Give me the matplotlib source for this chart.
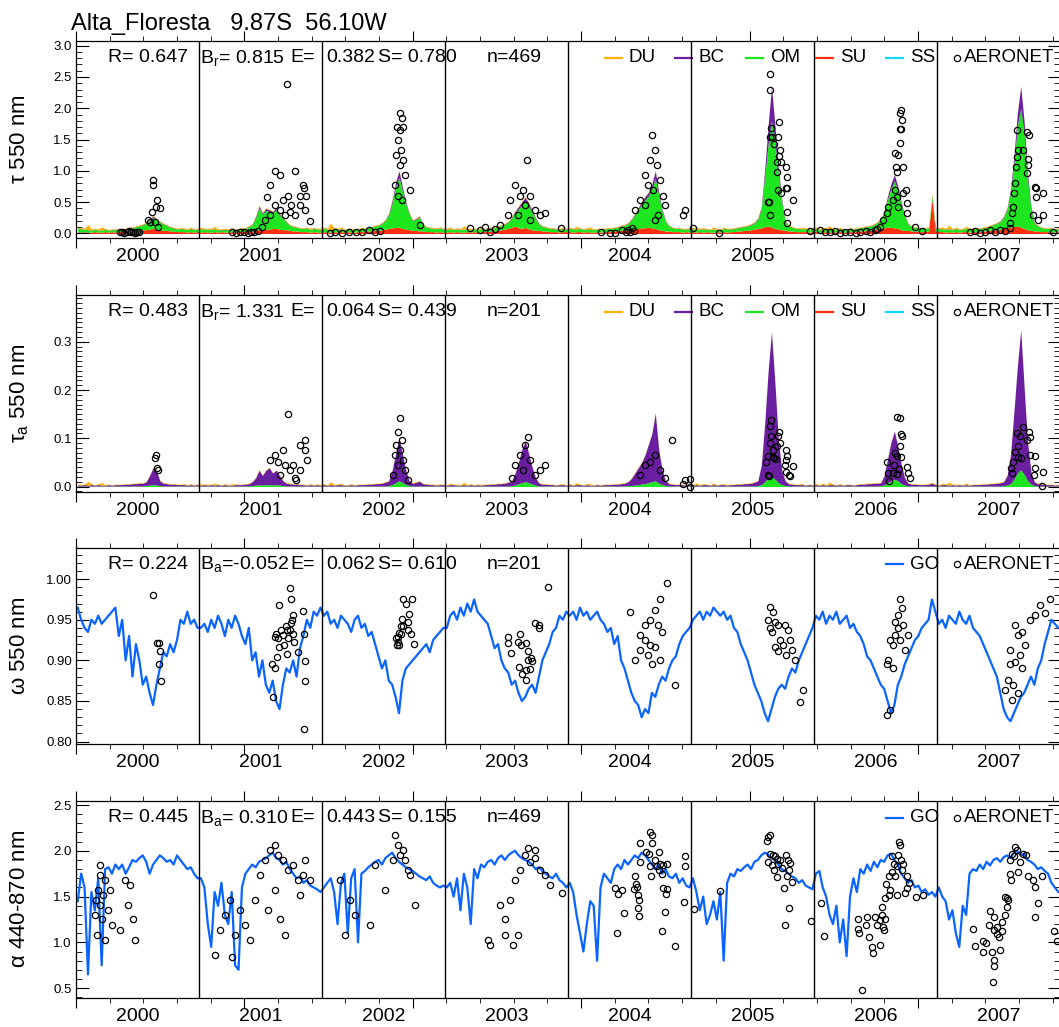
import numpy as np
import matplotlib
matplotlib.use("Agg")
import matplotlib.pyplot as plt
from matplotlib.ticker import MultipleLocator, FormatStrFormatter, NullFormatter
from matplotlib.transforms import blended_transform_factory

plt.rcParams['font.family'] = ['Liberation Sans', 'DejaVu Sans']
plt.rcParams['mathtext.default'] = 'regular'

years = [2000, 2001, 2002, 2003, 2004, 2005, 2006, 2007]

# model values, 36 steps (~10 days) per year, one row per year
om_tau = [
    [.06,.05,.04,.04,.03,.04,.03,.03,.04,.03,.03,.04,.03,.04,.04,.05,.05,.06,.07,.08,.10,.14,.18,.15,.12,.10,.08,.06,.05,.04,.05,.04,.04,.05,.04,.04],
    [.05,.04,.04,.05,.04,.04,.03,.04,.04,.03,.04,.04,.05,.05,.07,.10,.20,.35,.25,.30,.28,.25,.30,.22,.18,.12,.08,.07,.06,.05,.05,.06,.04,.05,.05,.04],
    [.05,.05,.04,.04,.05,.04,.04,.04,.03,.04,.04,.05,.05,.05,.06,.07,.08,.10,.14,.22,.40,.65,.80,.60,.40,.25,.15,.18,.22,.10,.07,.06,.05,.05,.06,.05],
    [.05,.04,.04,.04,.04,.05,.04,.04,.04,.05,.04,.04,.05,.05,.05,.06,.07,.08,.10,.15,.22,.30,.38,.42,.36,.28,.18,.10,.07,.06,.05,.05,.04,.05,.05,.04],
    [.05,.05,.04,.05,.04,.04,.05,.04,.04,.05,.04,.05,.05,.05,.06,.07,.08,.10,.15,.22,.30,.38,.45,.50,.62,.80,.55,.30,.15,.08,.06,.05,.05,.05,.04,.05],
    [.05,.04,.04,.05,.04,.04,.05,.04,.04,.05,.05,.04,.05,.05,.06,.06,.07,.08,.10,.15,.30,.80,1.30,1.70,1.40,.90,.45,.15,.08,.06,.05,.05,.04,.05,.04,.05],
    [.05,.04,.04,.05,.05,.04,.04,.05,.04,.04,.05,.04,.05,.05,.06,.06,.07,.08,.10,.14,.25,.45,.62,.75,.60,.40,.22,.10,.07,.06,.05,.05,.05,.05,.06,.05],
    [.05,.04,.05,.04,.04,.05,.04,.04,.05,.05,.04,.05,.05,.05,.06,.07,.08,.10,.12,.18,.30,.55,1.00,1.60,1.90,1.50,.80,.35,.12,.08,.06,.05,.05,.05,.04,.05],
]
su_tau = [
    [.03,.02,.03,.02,.02,.03,.02,.02,.03,.02,.03,.02,.03,.03,.03,.04,.04,.05,.05,.06,.06,.07,.08,.07,.06,.05,.05,.04,.04,.03,.03,.03,.02,.03,.02,.03],
    [.02,.03,.02,.02,.03,.02,.03,.02,.02,.03,.02,.03,.03,.03,.04,.04,.05,.06,.06,.07,.07,.08,.08,.07,.06,.06,.05,.04,.04,.03,.03,.03,.02,.03,.02,.02],
    [.03,.02,.02,.03,.02,.03,.02,.03,.02,.02,.03,.03,.03,.04,.04,.05,.05,.06,.07,.08,.09,.10,.10,.08,.07,.06,.05,.05,.04,.04,.03,.03,.03,.02,.03,.02],
    [.02,.03,.02,.03,.02,.02,.03,.02,.03,.02,.03,.03,.03,.04,.04,.05,.06,.07,.08,.10,.12,.09,.08,.10,.07,.06,.05,.05,.04,.04,.03,.03,.03,.02,.03,.03],
    [.03,.02,.03,.03,.02,.03,.02,.02,.03,.02,.03,.03,.03,.04,.04,.05,.05,.06,.07,.07,.08,.09,.09,.10,.09,.08,.06,.05,.04,.04,.03,.03,.03,.02,.03,.02],
    [.03,.02,.03,.02,.03,.02,.02,.03,.02,.03,.02,.03,.03,.04,.04,.05,.05,.06,.07,.08,.09,.11,.12,.10,.08,.07,.06,.05,.04,.04,.03,.03,.03,.03,.02,.03],
    [.03,.02,.02,.03,.02,.03,.02,.03,.02,.02,.03,.03,.03,.04,.04,.05,.05,.06,.07,.08,.09,.10,.10,.09,.08,.06,.05,.05,.04,.04,.03,.03,.03,.04,.55,.04],
    [.03,.03,.02,.03,.02,.03,.02,.03,.03,.02,.03,.03,.03,.04,.04,.05,.06,.06,.07,.08,.09,.10,.11,.12,.10,.08,.06,.05,.04,.04,.03,.03,.03,.03,.02,.03],
]
bc_tau = [
    [.004,.004,.004,.004,.004,.004,.004,.004,.004,.004,.004,.004,.004,.004,.004,.005,.005,.005,.006,.006,.008,.015,.02,.015,.008,.006,.005,.005,.004,.004,.004,.004,.004,.004,.004,.004],
    [.004,.004,.004,.004,.004,.004,.004,.004,.004,.004,.004,.004,.004,.005,.006,.008,.02,.03,.02,.03,.03,.02,.03,.02,.01,.008,.006,.005,.004,.004,.004,.004,.004,.004,.004,.004],
    [.004,.004,.004,.004,.004,.004,.004,.004,.004,.004,.004,.004,.004,.005,.005,.006,.006,.008,.01,.02,.04,.07,.10,.06,.03,.015,.01,.012,.015,.006,.005,.004,.004,.004,.004,.004],
    [.004,.004,.004,.004,.004,.004,.004,.004,.004,.004,.004,.004,.004,.005,.005,.006,.006,.008,.01,.015,.02,.04,.05,.06,.05,.03,.02,.008,.005,.004,.004,.004,.004,.004,.004,.004],
    [.004,.004,.004,.004,.004,.004,.004,.004,.004,.004,.004,.004,.004,.005,.005,.006,.006,.008,.01,.02,.03,.04,.05,.06,.08,.12,.06,.03,.01,.006,.005,.004,.004,.004,.004,.004],
    [.004,.004,.004,.004,.004,.004,.004,.004,.004,.004,.004,.004,.004,.005,.005,.006,.006,.008,.01,.015,.03,.10,.30,.55,.25,.10,.04,.01,.006,.005,.004,.004,.004,.004,.004,.004],
    [.004,.004,.004,.004,.004,.004,.004,.004,.004,.004,.004,.004,.004,.005,.005,.006,.006,.008,.01,.012,.02,.05,.08,.10,.07,.04,.02,.008,.005,.004,.004,.004,.004,.004,.004,.004],
    [.004,.004,.004,.004,.004,.004,.004,.004,.004,.004,.004,.004,.004,.005,.005,.006,.006,.008,.01,.015,.02,.05,.12,.20,.35,.20,.10,.04,.01,.006,.005,.004,.004,.004,.004,.004],
]
du_tau = [
    [.01,.02,.01,.08,.02,.01,.02,.05,.01,.01,.01,.01,.01,.01,.01,.01,.01,.01,.01,.01,.01,.01,.01,.01,.01,.01,.01,.01,.01,.01,.01,.02,.01,.02,.01,.01],
    [.03,.01,.02,.01,.04,.01,.01,.02,.01,.03,.01,.01,.01,.01,.01,.01,.01,.01,.01,.01,.01,.01,.01,.01,.01,.01,.01,.01,.01,.01,.01,.01,.02,.01,.01,.02],
    [.02,.01,.10,.02,.01,.03,.01,.01,.02,.01,.01,.01,.01,.01,.01,.01,.01,.01,.01,.01,.01,.01,.01,.01,.01,.01,.01,.01,.01,.01,.01,.01,.01,.02,.01,.01],
    [.01,.03,.01,.02,.01,.05,.01,.02,.01,.01,.02,.01,.01,.01,.01,.01,.01,.01,.01,.01,.01,.01,.01,.01,.01,.01,.01,.01,.01,.01,.01,.01,.01,.01,.02,.01],
    [.02,.01,.04,.01,.01,.02,.03,.01,.01,.01,.01,.01,.01,.01,.01,.01,.01,.01,.01,.01,.01,.01,.01,.01,.01,.01,.01,.01,.01,.01,.01,.01,.01,.01,.01,.02],
    [.01,.04,.01,.02,.01,.01,.03,.01,.01,.02,.01,.01,.01,.01,.01,.01,.01,.01,.01,.01,.01,.01,.01,.01,.01,.01,.01,.01,.01,.01,.01,.01,.02,.01,.01,.01],
    [.02,.01,.03,.01,.05,.01,.01,.02,.01,.01,.01,.01,.01,.01,.01,.01,.01,.01,.01,.01,.01,.01,.01,.01,.01,.01,.01,.01,.01,.01,.01,.01,.01,.01,.02,.01],
    [.01,.03,.01,.06,.01,.02,.01,.01,.03,.01,.01,.01,.01,.01,.01,.01,.01,.01,.01,.01,.01,.01,.01,.01,.01,.01,.01,.01,.01,.01,.01,.01,.01,.01,.01,.01],
]

om_abs = [
    [.001,.001,.001,.001,.001,.001,.001,.001,.001,.001,.001,.001,.001,.001,.001,.001,.001,.001,.001,.001,.002,.003,.004,.003,.002,.001,.001,.001,.001,.001,.001,.001,.001,.001,.001,.001],
    [.001,.001,.001,.001,.001,.001,.001,.001,.001,.001,.001,.001,.001,.001,.001,.002,.003,.004,.003,.004,.004,.003,.004,.003,.002,.001,.001,.001,.001,.001,.001,.001,.001,.001,.001,.001],
    [.001,.001,.001,.001,.001,.001,.001,.001,.001,.001,.001,.001,.001,.001,.001,.001,.001,.001,.001,.002,.004,.008,.012,.008,.004,.002,.001,.001,.001,.001,.001,.001,.001,.001,.001,.001],
    [.001,.001,.001,.001,.001,.001,.001,.001,.001,.001,.001,.001,.001,.001,.001,.001,.001,.001,.001,.002,.003,.006,.008,.010,.008,.005,.003,.001,.001,.001,.001,.001,.001,.001,.001,.001],
    [.001,.001,.001,.001,.001,.001,.001,.001,.001,.001,.001,.001,.001,.001,.001,.001,.001,.002,.002,.003,.004,.005,.006,.008,.010,.012,.007,.004,.002,.001,.001,.001,.001,.001,.001,.001],
    [.001,.001,.001,.001,.001,.001,.001,.001,.001,.001,.001,.001,.001,.001,.001,.001,.001,.001,.001,.002,.004,.010,.018,.021,.015,.008,.004,.002,.001,.001,.001,.001,.001,.001,.001,.001],
    [.001,.001,.001,.001,.001,.001,.001,.001,.001,.001,.001,.001,.001,.001,.001,.001,.001,.001,.001,.002,.003,.008,.012,.015,.012,.006,.003,.001,.001,.001,.001,.001,.001,.001,.001,.001],
    [.001,.001,.001,.001,.001,.001,.001,.001,.001,.001,.001,.001,.001,.001,.001,.001,.001,.001,.001,.002,.003,.006,.015,.028,.035,.025,.012,.005,.002,.001,.001,.001,.001,.001,.001,.001],
]
bc_abs = [
    [.003,.002,.003,.002,.003,.002,.003,.002,.002,.003,.002,.003,.003,.003,.004,.004,.005,.005,.006,.006,.008,.02,.035,.03,.01,.006,.005,.004,.004,.003,.003,.003,.002,.003,.002,.003],
    [.002,.003,.002,.003,.002,.003,.002,.003,.002,.002,.003,.003,.003,.004,.005,.008,.015,.03,.02,.03,.035,.025,.03,.02,.01,.006,.005,.004,.004,.003,.003,.002,.003,.002,.003,.002],
    [.003,.002,.003,.002,.003,.003,.002,.002,.003,.002,.003,.003,.003,.004,.004,.005,.005,.006,.008,.01,.03,.06,.09,.06,.03,.01,.006,.008,.01,.005,.004,.003,.003,.002,.003,.003],
    [.002,.003,.003,.002,.002,.003,.002,.003,.002,.003,.002,.003,.003,.004,.004,.005,.005,.006,.008,.01,.025,.045,.07,.085,.06,.035,.015,.006,.004,.004,.003,.003,.002,.003,.003,.002],
    [.003,.002,.003,.003,.002,.003,.002,.002,.003,.002,.003,.003,.003,.004,.004,.005,.006,.008,.015,.025,.035,.045,.06,.08,.10,.14,.07,.03,.01,.005,.004,.003,.003,.003,.002,.003],
    [.002,.003,.002,.003,.003,.002,.003,.002,.003,.003,.002,.003,.003,.004,.004,.005,.005,.006,.008,.01,.04,.12,.22,.30,.20,.09,.03,.01,.005,.004,.003,.003,.003,.002,.003,.002],
    [.003,.002,.003,.002,.003,.003,.002,.003,.002,.003,.003,.002,.003,.004,.004,.005,.005,.006,.006,.006,.02,.05,.08,.10,.07,.04,.015,.006,.004,.004,.003,.003,.003,.004,.006,.003],
    [.002,.003,.003,.002,.003,.002,.003,.002,.003,.002,.003,.003,.003,.004,.004,.005,.005,.006,.007,.008,.02,.06,.14,.22,.29,.18,.08,.025,.008,.005,.004,.003,.003,.003,.002,.003],
]
du_abs = [
    [.001,.002,.001,.008,.002,.001,.002,.005,.001,.001,.001,.001,.001,.001,.001,.001,.001,.001,.001,.001,.001,.001,.001,.001,.001,.001,.001,.001,.001,.001,.001,.002,.001,.002,.001,.001],
    [.003,.001,.002,.001,.004,.001,.001,.002,.001,.003,.001,.001,.001,.001,.001,.001,.001,.001,.001,.001,.001,.001,.001,.001,.001,.001,.001,.001,.001,.001,.001,.001,.002,.001,.001,.002],
    [.002,.001,.006,.002,.001,.003,.001,.001,.002,.001,.001,.001,.001,.001,.001,.001,.001,.001,.001,.001,.001,.001,.001,.001,.001,.001,.001,.001,.001,.001,.001,.001,.001,.002,.001,.001],
    [.001,.003,.001,.002,.001,.005,.001,.002,.001,.001,.002,.001,.001,.001,.001,.001,.001,.001,.001,.001,.001,.001,.001,.001,.001,.001,.001,.001,.001,.001,.001,.001,.001,.001,.002,.001],
    [.002,.001,.004,.001,.001,.002,.003,.001,.001,.001,.001,.001,.001,.001,.001,.001,.001,.001,.001,.001,.001,.001,.001,.001,.001,.001,.001,.001,.001,.001,.001,.001,.001,.001,.001,.002],
    [.001,.004,.001,.002,.001,.001,.003,.001,.001,.002,.001,.001,.001,.001,.001,.001,.001,.001,.001,.001,.001,.001,.001,.001,.001,.001,.001,.001,.001,.001,.001,.001,.002,.001,.001,.001],
    [.002,.001,.003,.001,.005,.001,.001,.002,.001,.001,.001,.001,.001,.001,.001,.001,.001,.001,.001,.001,.001,.001,.001,.001,.001,.001,.001,.001,.001,.001,.001,.001,.001,.001,.002,.001],
    [.001,.003,.001,.006,.001,.002,.001,.001,.003,.001,.001,.001,.001,.001,.001,.001,.001,.001,.001,.001,.001,.001,.001,.001,.001,.001,.001,.001,.001,.001,.001,.001,.001,.001,.001,.001],
]

ssa_go = [
    [.965,.95,.94,.935,.95,.945,.955,.945,.95,.955,.96,.965,.93,.95,.90,.93,.88,.92,.90,.87,.88,.86,.845,.87,.89,.91,.905,.92,.91,.925,.95,.945,.96,.945,.95,.94],
    [.94,.945,.935,.95,.94,.955,.945,.93,.95,.94,.955,.945,.93,.92,.94,.90,.91,.88,.90,.87,.86,.875,.85,.84,.87,.89,.885,.90,.88,.915,.93,.95,.94,.96,.955,.965],
    [.955,.96,.945,.95,.94,.955,.95,.945,.935,.95,.955,.94,.945,.93,.935,.92,.905,.89,.90,.875,.87,.855,.835,.875,.89,.895,.90,.905,.91,.915,.92,.91,.925,.93,.935,.94],
    [.94,.955,.96,.95,.965,.955,.97,.96,.975,.96,.955,.95,.945,.93,.915,.92,.90,.89,.885,.87,.875,.86,.85,.855,.865,.87,.86,.88,.90,.91,.92,.935,.94,.955,.95,.96],
    [.955,.96,.95,.965,.955,.96,.95,.955,.96,.95,.945,.935,.94,.92,.93,.90,.89,.875,.86,.85,.845,.83,.84,.835,.86,.855,.87,.88,.875,.89,.90,.905,.92,.93,.935,.94],
    [.95,.955,.96,.95,.96,.955,.965,.96,.955,.96,.95,.955,.94,.935,.92,.91,.90,.885,.87,.86,.85,.835,.825,.84,.855,.865,.87,.865,.88,.89,.885,.90,.91,.92,.93,.94],
    [.955,.95,.96,.945,.955,.95,.96,.945,.95,.955,.94,.945,.935,.93,.92,.905,.90,.89,.88,.87,.865,.85,.835,.845,.87,.88,.895,.905,.915,.925,.93,.94,.945,.95,.975,.96],
    [.945,.95,.94,.955,.95,.945,.96,.95,.945,.955,.94,.935,.93,.92,.91,.90,.89,.88,.86,.84,.83,.825,.835,.845,.855,.86,.87,.88,.87,.89,.90,.92,.935,.95,.945,.94],
]
ae_go = [
    [1.45,1.75,1.60,0.65,1.55,1.35,1.70,0.75,1.80,1.82,1.75,1.85,1.80,1.85,1.75,1.82,1.90,1.88,1.92,1.95,1.88,1.75,1.85,1.90,1.95,1.92,1.88,1.90,1.85,1.95,1.90,1.85,1.80,1.82,1.75,1.70],
    [1.70,1.60,1.20,0.95,1.55,1.40,1.65,1.30,1.20,1.55,0.75,0.70,1.60,1.75,1.80,1.85,1.82,1.88,1.90,1.92,1.95,1.98,1.92,1.90,1.85,1.88,1.80,1.75,1.70,1.72,1.65,1.68,1.62,1.60,1.58,1.55],
    [1.60,1.65,1.70,1.55,1.20,1.65,1.75,1.10,1.70,1.80,1.00,1.75,1.78,1.82,1.85,1.88,1.90,1.85,1.92,1.95,1.98,1.92,1.88,1.85,1.82,1.80,1.78,1.75,1.72,1.70,1.68,1.72,1.65,1.62,1.60,1.62],
    [1.60,1.65,1.50,1.70,1.35,1.75,1.60,1.20,1.80,1.70,1.85,1.82,1.88,1.90,1.85,1.92,1.95,1.90,1.95,1.98,2.00,1.95,1.92,1.90,1.88,1.85,1.80,1.82,1.78,1.75,1.72,1.70,1.75,1.68,1.65,1.60],
    [1.65,1.55,1.30,1.10,0.90,1.20,1.45,1.40,0.80,1.60,1.75,1.70,1.65,1.80,1.85,1.80,1.90,1.85,1.90,1.95,1.92,1.98,1.95,1.90,1.85,1.80,1.85,1.75,1.80,1.72,1.70,1.75,1.65,1.70,1.62,1.60],
    [1.70,1.55,1.35,1.50,1.20,1.30,1.45,1.25,1.55,0.80,1.65,1.75,1.72,1.80,1.78,1.82,1.85,1.80,1.88,1.90,1.95,1.98,1.96,1.92,1.90,1.85,1.80,1.78,1.75,1.72,1.70,1.65,1.68,1.62,1.60,1.58],
    [1.75,1.78,1.60,1.50,1.30,1.20,1.40,1.00,1.25,0.85,1.50,1.70,1.55,1.80,1.75,1.85,1.78,1.88,1.82,1.90,1.88,1.95,1.97,1.90,1.85,1.75,1.70,1.65,1.68,1.60,1.62,1.55,1.58,1.52,1.55,1.50],
    [1.60,1.50,1.45,1.25,1.35,1.10,0.95,1.40,1.30,1.75,1.80,1.78,1.85,1.80,1.88,1.84,1.90,1.92,1.88,1.93,1.95,1.92,1.98,2.00,1.95,1.97,1.90,1.88,1.85,1.80,1.82,1.78,1.75,1.65,1.60,1.55],
]

# AERONET retrievals: day since 2000-01-01, value
aer_tau_day = [130,137,143,150,156,162,168,175,181,188,214,220,226,229,229,235,238,241,250,244,
    463,475,487,498,510,520,530,541,552,561,567,576,576,591,591,606,606,615,621,627,630,636,639,650,650,665,665,674,677,680,683,695,
    754,770,790,810,830,850,870,888,903,947,950,953,956,956,962,962,962,965,968,968,971,971,977,992,1022,1170,
    1200,1215,1230,1245,1259,1283,1289,1304,1313,1319,1328,1334,1339,1348,1348,1363,1378,1393,1440,
    1560,1585,1601,1620,1634,1640,1646,1652,1658,1660,1675,1690,1690,1699,1705,1711,1714,1720,1720,1726,1729,1734,1743,1749,1803,1809,
    1833,1910,2055,2057,2061,2062,2063,2061,2061,2066,2073,2082,2082,2085,2085,2088,2091,2088,2094,2094,2109,2109,2112,2112,2112,2112,2129,2180,
    2210,2225,2239,2255,2269,2285,2299,2315,2328,2345,2358,2372,2380,2388,2397,2409,2412,2426,2438,2432,2456,2468,2441,2468,2447,2450,2452,2447,2450,2447,2432,2441,2435,2456,2438,2465,2492,2513,
    2655,2670,2685,2700,2715,2730,2744,2760,2774,2774,2780,2783,2786,2789,2792,2795,2798,2795,2813,2824,2830,2827,2827,2824,2848,2851,2872,2851,2842,2857,2872,2902]
aer_tau_val = [.02,.03,.01,.02,.04,.02,.03,.01,.03,.02,.21,.18,.34,.85,.77,.18,.42,.53,.40,.10,
    .02,.01,.03,.02,.01,.03,.02,.04,.11,.21,.58,.77,.29,1.0,.45,.93,.37,.53,.29,2.39,.60,.34,.45,1.0,.29,.60,.45,.77,.72,.37,.60,.20,
    .0,.02,.01,.03,.02,.03,.05,.02,.04,.77,1.25,1.70,1.49,.60,1.92,1.65,1.09,1.33,1.84,.53,1.70,1.17,.93,.69,.13,.08,
    .05,.10,.03,.07,.13,.29,.53,.77,.29,.60,.69,.45,1.17,.60,.21,.37,.29,.32,.08,
    .03,.01,.0,.05,.03,.06,.02,.08,.04,.37,.53,.93,.45,.77,1.17,1.57,.69,1.33,.21,1.09,.29,.85,.60,.45,.29,.37,
    .08,.0,.50,.50,2.55,2.30,1.68,1.54,.29,1.54,1.43,1.14,.98,.69,1.54,1.78,1.33,1.23,.64,1.14,1.07,.73,.90,.72,.34,.16,.53,.04,
    .06,.03,.02,.04,.01,.02,.03,.01,.02,.04,.03,.05,.07,.10,.21,.32,.42,.53,.58,.69,.64,.48,.42,.32,1.92,1.97,1.81,1.67,1.67,1.44,1.29,1.25,1.07,1.07,.98,.70,.10,.04,
    .02,.04,.01,.03,.05,.02,.06,.04,.08,.16,.32,.42,.64,.80,1.06,1.22,1.33,1.65,1.33,1.62,1.58,1.19,1.10,.96,.74,.72,.64,.58,.29,.21,.29,.02]

aer_abs_day = [238,235,244,241,
    630,680,665,615,591,576,600,621,636,606,650,665,680,686,644,653,
    962,956,968,950,962,947,971,956,977,941,986,
    1342,1334,1319,1348,1304,1328,1363,1295,1378,1393,
    1770,1720,1705,1734,1690,1675,1749,1809,1803,
    2064,2061,2088,2085,2091,2082,2063,2061,2069,2070,2072,2055,2079,2049,2109,2112,2109,2106,2129,2116,2120,2055,2058,2109,1822,1822,
    2438,2447,2449,2452,2447,2432,2438,2449,2409,2429,2444,2468,2470,2477,2411,2427,2414,2438,
    2812,2794,2804,2829,2824,2832,2798,2789,2806,2832,2848,2782,2776,2779,2845,2848,2871,2868,2796]
aer_abs_val = [.066,.060,.035,.039,
    .150,.097,.086,.076,.066,.055,.050,.045,.035,.024,.018,.035,.076,.055,.045,.014,
    .142,.113,.097,.086,.076,.066,.055,.045,.035,.024,.014,
    .103,.086,.066,.055,.045,.035,.024,.018,.035,.045,
    .097,.066,.050,.035,.045,.024,.018,.014,.006,
    .138,.126,.114,.104,.090,.085,.104,.090,.076,.062,.060,.063,.058,.050,.075,.064,.054,.045,.043,.024,.021,.024,.022,.031,.016,.000,
    .144,.143,.109,.104,.083,.069,.064,.062,.050,.045,.036,.041,.028,.018,.029,.028,.012,.026,
    .123,.110,.105,.112,.097,.102,.083,.072,.059,.066,.064,.050,.038,.028,.024,.038,.031,.001,.062]

aer_ssa_day = [228,241,246,248,246,252,
    602,634,639,673,645,641,639,624,609,594,592,599,614,629,626,644,648,634,604,619,678,658,626,596,582,591,681,681,584,678,
    970,998,980,988,968,985,965,970,987,960,965,955,995,955,950,960,1005,952,
    1282,1282,1317,1312,1335,1322,1292,1343,1351,1341,1354,1315,1349,1337,1325,1337,1364,1374,1376,1401,
    1755,1734,1720,1705,1690,1729,1740,1675,1690,1705,1720,1675,1699,1660,1734,1711,1779,1645,
    2061,2070,2055,2076,2085,2061,2067,2106,2115,2121,2091,2100,2076,2085,2127,2135,2109,2150,2159,
    2447,2453,2441,2432,2456,2441,2432,2418,2447,2426,2462,2412,2409,2426,2418,2409,2471,
    2863,2878,2893,2789,2798,2810,2819,2774,2804,2789,2774,2810,2768,2783,2759,2798,2780,2833,2848]
aer_ssa_val = [.981,.922,.922,.911,.896,.875,
    .968,.989,.976,.961,.956,.950,.946,.942,.938,.933,.929,.927,.931,.927,.937,.933,.923,.937,.917,.919,.933,.910,.908,.904,.896,.891,.899,.874,.855,.816,
    .976,.976,.970,.957,.951,.947,.942,.942,.938,.934,.933,.929,.933,.923,.927,.919,.920,.919,
    .929,.921,.933,.923,.922,.919,.909,.911,.903,.901,.899,.892,.889,.888,.883,.876,.946,.944,.940,.990,
    .995,.975,.962,.950,.944,.944,.935,.931,.925,.919,.916,.913,.907,.900,.900,.895,.870,.960,
    .966,.960,.950,.947,.944,.940,.935,.944,.938,.925,.925,.919,.916,.911,.913,.900,.907,.849,.864,
    .975,.965,.956,.947,.944,.940,.931,.925,.925,.919,.913,.900,.895,.891,.839,.833,.931,
    .968,.958,.975,.944,.931,.935,.919,.913,.907,.898,.895,.891,.876,.870,.864,.860,.851,.950,.956]

aer_ae_day = [71,86,65,80,101,59,71,95,56,77,107,62,86,146,160,154,169,131,175,71,
    443,457,428,472,413,487,502,517,463,546,561,576,591,600,615,630,644,659,674,665,591,570,606,621,532,695,680,
    784,814,829,873,799,888,947,956,962,971,977,986,992,918,1007,941,
    1224,1230,1259,1274,1289,1304,1319,1334,1342,1348,1363,1378,1393,1313,1298,1274,1408,1363,
    1601,1620,1608,1628,1606,1660,1662,1665,1657,1670,1673,1670,1671,1675,1675,1705,1710,1710,1693,1703,1705,1707,1720,1730,1725,1735,1730,1744,1754,1740,1744,1756,1752,1749,1740,1779,1809,1809,1806,1442,
    1834,1913,2056,2061,2053,2061,2069,2056,2066,2076,2081,2086,2091,2073,2096,2109,2113,2121,2116,2111,2126,2101,2116,2106,2182,2083,
    2212,2220,2323,2321,2326,2348,2346,2356,2363,2366,2333,2373,2378,2388,2393,2403,2396,2400,2393,2403,2413,2418,2406,2413,2423,2432,2437,2428,2423,2442,2445,2447,2449,2457,2452,2467,2475,2467,2462,2439,2495,2515,2388,
    2665,2670,2693,2703,2693,2720,2725,2727,2722,2744,2710,2725,2715,2734,2749,2742,2759,2764,2769,2764,2759,2725,2734,2749,2774,2779,2789,2794,2784,2802,2774,2776,2796,2813,2821,2828,2843,2848,2858,2848,2868,2903,2913]
aer_ae_val = [1.74,1.68,1.57,1.52,1.57,1.46,1.41,1.35,1.30,1.25,1.19,1.08,1.03,1.68,1.63,1.41,1.25,1.14,1.03,1.85,
    1.30,1.46,1.14,1.08,.86,1.35,1.19,1.03,.84,1.74,1.90,2.01,2.06,1.95,1.90,1.79,1.85,1.68,1.74,1.52,1.57,1.35,1.25,1.08,1.46,1.68,1.90,
    1.68,1.46,1.30,1.19,1.08,1.85,2.17,2.06,1.95,2.01,1.90,1.79,1.74,1.57,1.41,1.90,
    1.03,.97,1.41,1.25,1.46,1.68,1.79,1.95,2.03,1.88,1.92,1.79,1.74,1.08,.97,1.08,1.63,2.01,
    1.59,1.57,1.53,1.32,1.10,1.72,1.64,1.60,1.58,1.52,1.46,1.37,1.29,1.88,2.08,2.20,2.17,2.08,1.99,1.97,1.83,1.72,1.90,1.99,1.83,1.86,1.79,1.84,1.86,1.75,1.59,1.58,1.53,1.33,1.12,.96,1.94,1.83,1.44,1.54,
    1.36,1.56,2.15,2.17,2.11,1.97,1.95,1.88,1.84,1.94,1.91,1.86,1.90,1.79,1.81,1.95,1.90,1.87,1.79,1.72,1.66,1.59,1.37,1.19,1.23,1.71,
    1.43,1.07,1.26,1.15,1.10,1.28,1.19,1.06,.95,.88,.48,1.28,1.19,1.24,1.30,1.26,1.17,1.14,1.39,1.48,1.52,1.57,1.64,1.72,1.77,1.73,1.83,1.86,1.94,1.95,2.10,2.06,1.90,1.86,1.79,1.73,1.65,1.59,1.54,1.52,1.50,1.52,.97,
    1.15,.96,.90,.99,1.01,.90,.81,.74,.57,.92,1.19,1.28,1.34,1.17,1.12,1.06,1.30,1.39,1.46,1.48,1.50,1.13,1.09,1.22,1.90,1.97,2.04,2.01,1.94,1.88,1.75,1.68,1.77,1.97,1.95,1.73,1.68,1.61,1.43,1.28,1.72,1.12,1.01]

# statistics line of each panel, split in the pieces the original lays out
stats = [
    ["R= 0.647", "B$_r$= 0.815", "E=", "0.382", "S= 0.780", "n=469"],
    ["R= 0.483", "B$_r$= 1.331", "E=", "0.064", "S= 0.439", "n=201"],
    ["R= 0.224", "B$_a$=-0.052", "E=", "0.062", "S= 0.610", "n=201"],
    ["R= 0.445", "B$_a$= 0.310", "E=", "0.443", "S= 0.155", "n=469"],
]
ylabels = [r"$\tau$ 550 nm", r"$\tau_a$ 550 nm", r"$\omega$ 550 nm", r"$\alpha$ 440-870 nm"]

C_DU, C_BC, C_OM, C_SU, C_SS, C_GO = '#ffb000', '#6a1fa0', '#1ee61e', '#ff3010', '#10d8ff', '#0a64ff'

# time axis: days since 2000-01-01
edges = (np.array([f'{y}-01-01' for y in range(2000, 2009)], dtype='datetime64[D]')
         - np.datetime64('2000-01-01')).astype(int)
t = np.concatenate([edges[i] + (np.arange(36) + 0.5) * (edges[i + 1] - edges[i]) / 36
                    for i in range(8)])

W, H = 1059, 1027
fig = plt.figure(figsize=(W / 100, H / 100), dpi=100)
ax_left, ax_w, ax_h = 76 / W, 984 / W, 196.5 / H
tops = [41, 295, 547.5, 801]
axes = [fig.add_axes([ax_left, 1 - (tp + 196.5) / H, ax_w, ax_h]) for tp in tops]


def px(xp):
    return (xp - 76) / 984


def stack(ax, layers):
    base = np.zeros(len(t))
    for vals, color in layers:
        top = base + np.ravel(vals)
        ax.fill_between(t, base, top, color=color, lw=0)
        base = top


def style(ax, ylim, major, minor, fmt):
    ax.set_xlim(edges[0], edges[-1])
    ax.set_ylim(*ylim)
    ax.yaxis.set_major_locator(MultipleLocator(major))
    ax.yaxis.set_minor_locator(MultipleLocator(minor))
    ax.yaxis.set_major_formatter(FormatStrFormatter(fmt))
    ax.xaxis.set_major_locator(MultipleLocator(500))
    ax.xaxis.set_minor_locator(MultipleLocator(100))
    ax.xaxis.set_major_formatter(NullFormatter())
    ax.tick_params(axis='y', which='both', direction='in', left=True, right=True, labelsize=9.5, pad=3)
    ax.tick_params(axis='y', which='major', length=9, width=0.8)
    ax.tick_params(axis='y', which='minor', length=4, width=0.6)
    ax.tick_params(axis='x', which='both', direction='out', top=True, bottom=True)
    ax.tick_params(axis='x', which='major', length=7, width=0.8)
    ax.tick_params(axis='x', which='minor', length=3.5, width=0.6)
    for s in ax.spines.values():
        s.set_linewidth(0.9)
    for e in edges[1:-1]:
        ax.axvline(e, color='black', lw=1.0, zorder=5)
    tr = blended_transform_factory(ax.transData, ax.transAxes)
    for i, y in enumerate(years):
        ax.text((edges[i] + edges[i + 1]) / 2, -0.095, str(y), transform=tr,
                ha='center', va='center', fontsize=14)


def legend(ax, items):
    for xl, label, color in items:
        if color is None:
            ax.plot([px(xl)], [0.915], 'o', mfc='none', mec='black', ms=4.5, mew=0.9,
                    transform=ax.transAxes, clip_on=False)
            ax.text(px(xl + 7), 0.915, label, transform=ax.transAxes, va='center', fontsize=13.5)
        else:
            ax.plot([px(xl), px(xl + 17)], [0.915, 0.915], color=color, lw=1.6,
                    transform=ax.transAxes, clip_on=False)
            ax.text(px(xl + 24), 0.915, label, transform=ax.transAxes, va='center', fontsize=13.5)


def aeronet(ax, d, v):
    ax.plot(d, v, 'o', mfc='none', mec='black', ms=4.5, mew=0.9, zorder=6)


# panel 1: total AOD
ax = axes[0]
stack(ax, [(su_tau, C_SU), (om_tau, C_OM), (bc_tau, C_BC), (du_tau, C_DU)])
aeronet(ax, aer_tau_day, aer_tau_val)
style(ax, (-0.064, 3.075), 0.5, 0.1, '%.1f')

# panel 2: absorption AOD
ax = axes[1]
stack(ax, [(om_abs, C_OM), (bc_abs, C_BC), (du_abs, C_DU)])
aeronet(ax, aer_abs_day, aer_abs_val)
style(ax, (-0.0103, 0.397), 0.1, 0.01, '%.1f')

# panel 3: single scattering albedo
ax = axes[2]
ax.plot(t, np.ravel(ssa_go), color=C_GO, lw=1.6)
aeronet(ax, aer_ssa_day, aer_ssa_val)
style(ax, (0.797, 1.039), 0.05, 0.01, '%.2f')

# panel 4: Angstrom exponent
ax = axes[3]
ax.plot(t, np.ravel(ae_go), color=C_GO, lw=1.6)
aeronet(ax, aer_ae_day, aer_ae_val)
style(ax, (0.398, 2.544), 0.5, 0.1, '%.1f')

stack_items = [(605, 'DU', C_DU), (675, 'BC', C_BC), (746, 'OM', C_OM),
               (816, 'SU', C_SU), (886, 'SS', C_SS), (957, 'AERONET', None)]
go_items = [(886, 'GO', C_GO), (957, 'AERONET', None)]
stat_x = [108, 200, 290, 326, 378, 487]
for i, ax in enumerate(axes):
    for xs, s in zip(stat_x, stats[i]):
        ax.text(px(xs), 0.915, s, transform=ax.transAxes, va='center', fontsize=14)
    legend(ax, stack_items if i < 2 else go_items)
    fig.text(20 / W, 1 - (tops[i] + 98) / H, ylabels[i], rotation=90,
             ha='center', va='center', fontsize=16)

fig.text(71 / W, 1 - 30 / H, "Alta_Floresta   9.87S  56.10W", fontsize=17, va='baseline')

fig.savefig("out.png", dpi=100)
